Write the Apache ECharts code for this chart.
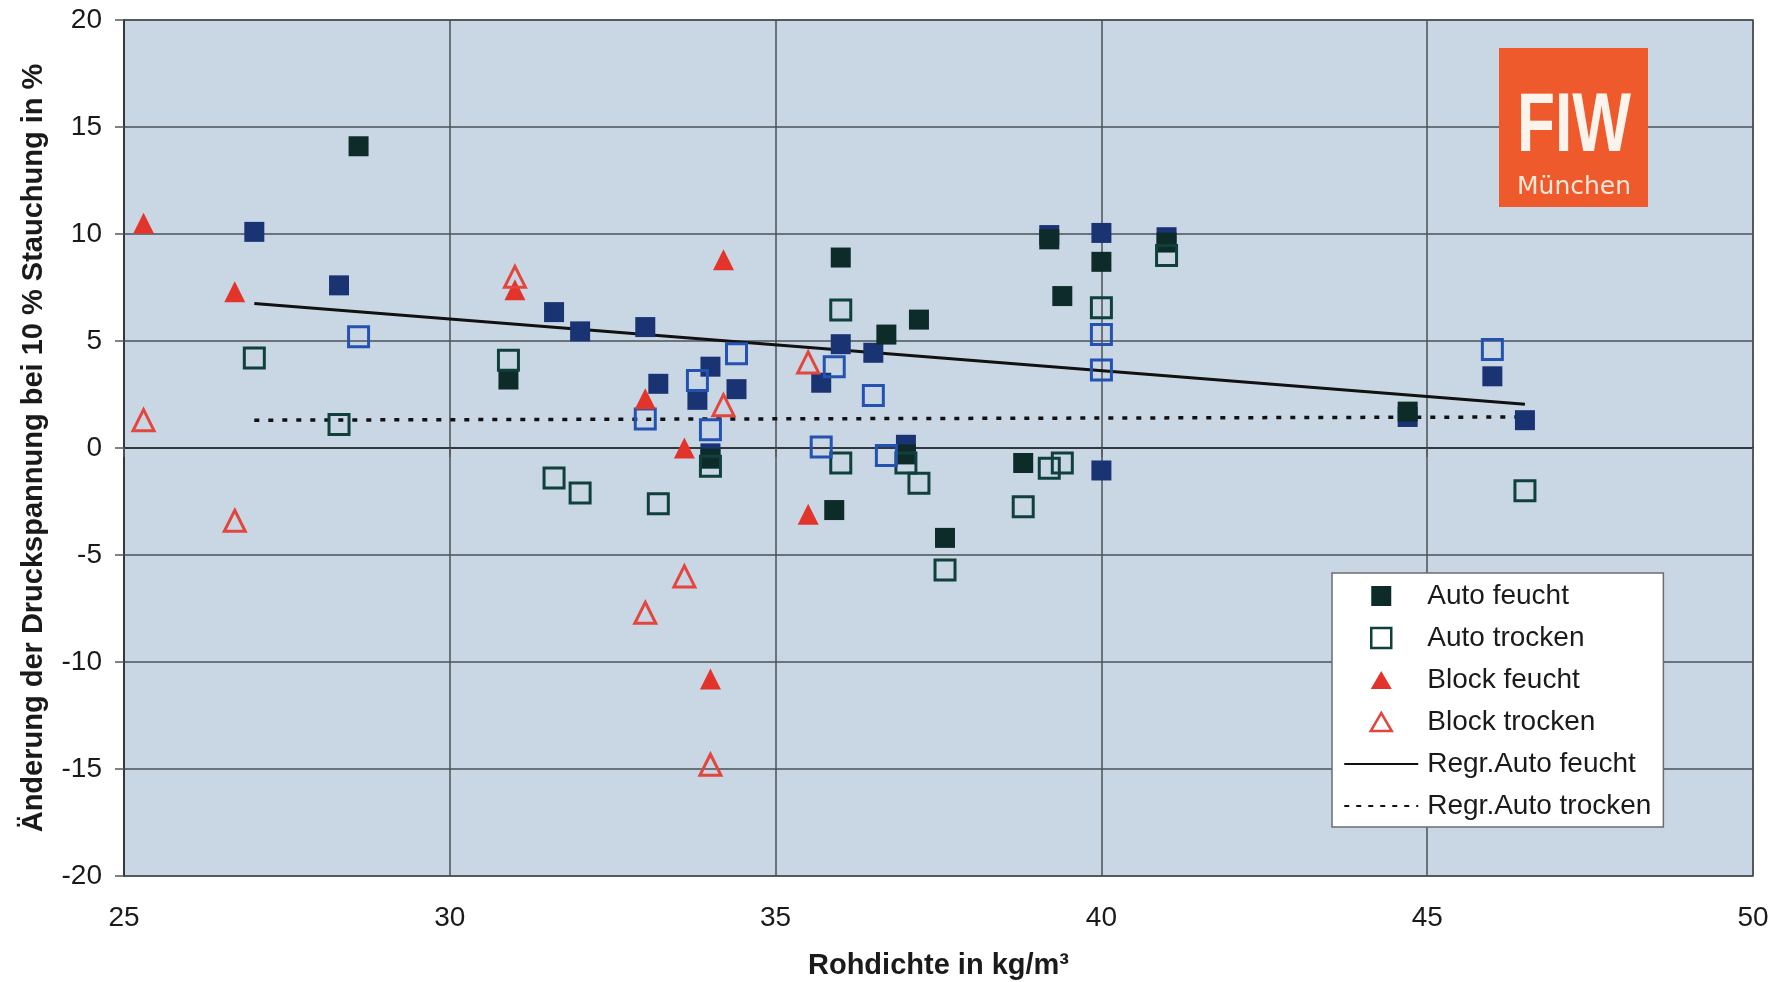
<!DOCTYPE html>
<html>
<head>
<meta charset="utf-8">
<title>Druckspannung vs. Rohdichte</title>
<script src="https://cdn.jsdelivr.net/npm/echarts@6/dist/echarts.min.js"></script>
<style>
  html, body { margin: 0; padding: 0; background: #ffffff; }
  #chart { width: 1778px; height: 982px; }
</style>
</head>
<body>
<div id="chart"></div>
<script>
// Rohdichte [kg/m³] vs. Änderung der Druckspannung bei 10 % Stauchung [%]

// Auto, feucht gelagert (dunkel gefüllt)
const autoFeucht = [
  [28.6, 14.1], [30.9, 3.2], [36.0, 8.9], [36.7, 5.3], [37.2, 6.0],
  [39.2, 9.75], [39.4, 7.1], [40.0, 8.7], [41.0, 9.6], [34.0, -0.5],
  [35.9, -2.9], [37.0, -0.3], [37.6, -4.2], [38.8, -0.7], [44.7, 1.7]
];
// Auto, feucht gelagert, zweite Messreihe (blau gefüllt)
const autoFeuchtB = [
  [27.0, 10.1], [28.3, 7.6], [31.6, 6.35], [32.0, 5.45], [33.0, 5.65],
  [33.2, 3.0], [33.8, 2.25], [34.0, 3.8], [34.4, 2.75], [35.7, 3.05],
  [36.0, 4.85], [36.5, 4.45], [37.0, 0.15], [39.2, 9.95], [40.0, 10.05],
  [40.0, -1.05], [41.0, 9.85], [44.7, 1.45], [46.0, 3.35], [46.5, 1.3],
  [34.0, -0.25]
];
// Auto, trocken gelagert (dunkel hohl)
const autoTrocken = [
  [27.0, 4.2], [28.3, 1.1], [30.9, 4.1], [31.6, -1.4], [32.0, -2.1],
  [33.2, -2.6], [34.0, -0.85], [36.0, 6.45], [36.0, -0.7], [37.0, -0.7],
  [37.2, -1.65], [37.6, -5.7], [38.8, -2.75], [39.2, -0.95], [39.4, -0.7],
  [40.0, 6.55], [41.0, 9.0], [46.5, -2.0]
];
// Auto, trocken gelagert, zweite Messreihe (blau hohl)
const autoTrockenB = [
  [28.6, 5.2], [33.0, 1.35], [33.8, 3.15], [34.0, 0.85], [34.4, 4.4],
  [35.7, 0.05], [35.9, 3.8], [36.5, 2.45], [36.7, -0.35], [40.0, 5.3],
  [40.0, 3.65], [46.0, 4.6]
];
// Blockware
const blockFeucht = [
  [25.3, 10.5], [26.7, 7.3], [31.0, 7.4], [33.0, 2.3], [33.6, 0.0],
  [34.2, 8.8], [35.5, -3.1], [34.0, -10.8]
];
const blockTrocken = [
  [25.3, 1.3], [26.7, -3.4], [31.0, 8.0], [33.0, -7.7], [33.6, -6.0],
  [34.0, -14.8], [34.2, 2.0], [35.5, 4.0]
];
// Regressionsgeraden (Endpunkte)
const regrAutoFeucht = [[27.0, 6.75], [46.5, 2.05]];
const regrAutoTrocken = [[27.0, 1.3], [46.5, 1.45]];

// Achsen
const xRange = [25, 50];
const xStep = 5;
const yRange = [-20, 20];
const yStep = 5;

const FONT = '"Liberation Sans", Arial, sans-serif';
const DARK = '#0d2b29';
const NAVY = '#1a3373';
const RED = '#e2342b';
const NONE = 'rgba(0,0,0,0)';

// Legend icons: the leading moveTo points span the whole 74×20 icon box,
// so the marker keeps its own proportions in the middle of it.
const ICON_SQUARE = 'path://M0,0M74,20M27,0H47V20H27Z';
const ICON_TRIANGLE = 'path://M0,0M74,20M37,1L47.5,19H26.5Z';

const chart = echarts.init(document.getElementById('chart'), null, { renderer: 'canvas' });

function scatter(name, data, symbol, fill, border, z) {
  return {
    name: name,
    type: 'scatter',
    data: data,
    symbol: symbol,
    symbolSize: symbol === 'triangle' ? 21 : 20,
    z: z,
    itemStyle: {
      color: fill,
      opacity: 1,
      borderColor: border,
      borderWidth: fill === NONE ? 3 : 0
    },
    emphasis: { disabled: true }
  };
}

function regression(name, data, dash, width) {
  return {
    name: name,
    type: 'line',
    data: data,
    symbol: 'none',
    z: 2,
    lineStyle: { color: '#111111', width: width, type: dash },
    itemStyle: { color: NONE, borderColor: NONE, borderWidth: 0 },
    emphasis: { disabled: true }
  };
}

const option = {
  animation: false,
  backgroundColor: '#ffffff',
  textStyle: { fontFamily: FONT },
  grid: {
    left: 124, top: 20, width: 1629, height: 856,
    outerBoundsMode: 'none',
    containLabel: false,
    show: true,
    backgroundColor: '#c9d7e5',
    borderColor: '#4a5056',
    borderWidth: 1.5
  },
  xAxis: {
    type: 'value',
    min: xRange[0], max: xRange[1], interval: xStep,
    name: 'Rohdichte in kg/m³',
    nameLocation: 'middle',
    nameGap: 75,
    nameTextStyle: { fontFamily: FONT, fontWeight: 'bold', fontSize: 29, color: '#1a1a1a' },
    axisLine: { show: true, lineStyle: { color: '#33383c', width: 2 } },
    axisTick: { show: true, inside: false, length: 9, lineStyle: { color: '#55595d', width: 1.5 } },
    axisLabel: { fontSize: 28, color: '#1a1a1a', margin: 28, fontFamily: FONT },
    splitLine: { show: true, lineStyle: { color: '#4a5056', width: 1.5 } }
  },
  yAxis: {
    type: 'value',
    min: yRange[0], max: yRange[1], interval: yStep,
    name: 'Änderung der Druckspannung bei 10 % Stauchung in %',
    nameLocation: 'middle',
    nameGap: 76,
    nameTextStyle: { fontFamily: FONT, fontWeight: 'bold', fontSize: 29, color: '#1a1a1a' },
    axisLine: { show: true, lineStyle: { color: '#33383c', width: 2 } },
    axisTick: { show: true, inside: false, length: 9, lineStyle: { color: '#55595d', width: 1.5 } },
    axisLabel: { fontSize: 28, color: '#1a1a1a', margin: 22, fontFamily: FONT },
    splitLine: { show: true, lineStyle: { color: '#4a5056', width: 1.5 } }
  },
  legend: {
    orient: 'vertical',
    left: 1332, top: 573,
    padding: [8, 12, 6, 11],
    itemWidth: 74,
    itemHeight: 20,
    itemGap: 12,
    backgroundColor: '#ffffff',
    borderColor: '#6a6e72',
    borderWidth: 1.5,
    borderRadius: 0,
    selectedMode: false,
    textStyle: { fontFamily: FONT, fontSize: 28, color: '#1a1a1a', lineHeight: 30, padding: [0, 0, 0, 4] },
    data: [
      { name: 'Auto feucht', icon: ICON_SQUARE },
      { name: 'Auto trocken', icon: ICON_SQUARE, itemStyle: { borderWidth: 2.5 } },
      { name: 'Block feucht', icon: ICON_TRIANGLE },
      { name: 'Block trocken', icon: ICON_TRIANGLE, itemStyle: { borderWidth: 2.5 } },
      { name: 'Regr.Auto feucht', itemStyle: { color: NONE, borderWidth: 0 } },
      { name: 'Regr.Auto trocken', itemStyle: { color: NONE, borderWidth: 0 }, lineStyle: { width: 2, type: [5, 7] } }
    ]
  },
  graphic: [
    {
      type: 'rect',
      shape: { x: 1499, y: 48, width: 149, height: 159 },
      style: { fill: '#ef5a2c' },
      z: 5
    },
    {
      type: 'text',
      x: 1574, y: 128,
      scaleX: 0.74,
      style: {
        text: 'FIW',
        font: 'bold 84px "Liberation Sans", Arial, sans-serif',
        fill: '#fbf4ec',
        align: 'center',
        verticalAlign: 'middle'
      },
      z: 6
    },
    {
      type: 'text',
      x: 1574, y: 187,
      style: {
        text: 'München',
        font: '25px "DejaVu Sans", sans-serif',
        fill: '#f8e7da',
        align: 'center',
        verticalAlign: 'middle'
      },
      z: 6
    }
  ],
  series: [
    regression('Regr.Auto feucht', regrAutoFeucht, 'solid', 3),
    regression('Regr.Auto trocken', regrAutoTrocken, [5, 9], 3.5),
    scatter('Auto feucht B', autoFeuchtB, 'rect', NAVY, NAVY, 3),
    scatter('Auto feucht', autoFeucht, 'rect', DARK, DARK, 4),
    scatter('Auto trocken', autoTrocken, 'rect', NONE, '#10403c', 5),
    scatter('Auto trocken B', autoTrockenB, 'rect', NONE, '#2452b0', 5),
    scatter('Block feucht', blockFeucht, 'triangle', RED, RED, 6),
    scatter('Block trocken', blockTrocken, 'triangle', NONE, '#e2463c', 7)
  ]
};

chart.setOption(option);
</script>
</body>
</html>
